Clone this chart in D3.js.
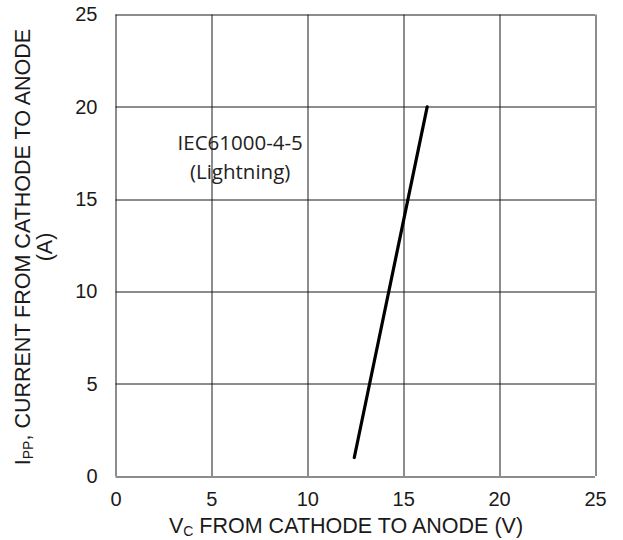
<!DOCTYPE html>
<html>
<head>
<meta charset="utf-8">
<script src="https://cdn.jsdelivr.net/npm/d3@7"></script>
<style>
  body { margin: 0; background: #fff; }
  svg { display: block; font-family: "Liberation Sans", Arial, sans-serif; }
</style>
</head>
<body>
<div id="chart"></div>
<script>
const xTicks = [0, 5, 10, 15, 20, 25];
const yTicks = [0, 5, 10, 15, 20, 25];
const clampVoltage = [12.45, 16.25];
const peakCurrent = [1, 20];
const noteLines = ["IEC61000-4-5", "(Lightning)"];

const chartRenderer = (() => {

    function renderClampChart(targetElementId) {
        const width = 623, height = 540;
        const margin = { top: 14.5, right: 28, bottom: 64, left: 115.5 };
        const innerWidth = width - margin.left - margin.right;
        const innerHeight = height - margin.top - margin.bottom;

        const svg = d3.select(`#${targetElementId}`).append("svg")
            .attr("width", width).attr("height", height);
        const chartArea = svg.append("g").attr("transform", `translate(${margin.left},${margin.top})`);

        const x = d3.scaleLinear().domain([0, 25]).range([0, innerWidth]);
        const y = d3.scaleLinear().domain([0, 25]).range([innerHeight, 0]);

        // grid
        chartArea.append("g").selectAll("line").data(xTicks).enter().append("line")
            .attr("x1", d => Math.round(x(d)) + 0.5).attr("x2", d => Math.round(x(d)) + 0.5)
            .attr("y1", 0).attr("y2", innerHeight)
            .attr("stroke", "#1a1a1a").attr("stroke-width", 1);
        chartArea.append("g").selectAll("line").data(yTicks).enter().append("line")
            .attr("y1", d => Math.round(y(d)) + 0.5).attr("y2", d => Math.round(y(d)) + 0.5)
            .attr("x1", 0).attr("x2", innerWidth)
            .attr("stroke", "#1a1a1a").attr("stroke-width", 1);

        // axes (labels only)
        const xAxis = chartArea.append("g").attr("transform", `translate(0,${innerHeight})`)
            .call(d3.axisBottom(x).tickValues(xTicks).tickSize(0).tickPadding(16));
        const yAxis = chartArea.append("g")
            .call(d3.axisLeft(y).tickValues(yTicks).tickSize(0).tickPadding(18));
        [xAxis, yAxis].forEach(a => {
            a.select(".domain").remove();
            a.selectAll("text").attr("font-size", 20).attr("fill", "#1a1a1a")
                .attr("font-family", "'Liberation Sans', Arial, sans-serif");
        });

        // data line
        const pts = clampVoltage.map((v, i) => ({ v, i: peakCurrent[i] }));
        chartArea.append("path").datum(pts)
            .attr("fill", "none").attr("stroke", "#000").attr("stroke-width", 3.2)
            .attr("stroke-linecap", "round")
            .attr("d", d3.line().x(d => x(d.v)).y(d => y(d.i)));

        // annotation
        chartArea.append("text")
            .attr("x", x(6.5)).attr("y", y(17.65))
            .attr("text-anchor", "middle")
            .attr("font-family", "'Open Sans', sans-serif").attr("font-size", 20.5).attr("fill", "#222")
            .selectAll("tspan").data(noteLines).enter().append("tspan")
            .attr("x", x(6.5)).attr("dy", (d, i) => i === 0 ? 0 : 29)
            .text(d => d);

        // x axis title
        const xt = svg.append("text")
            .attr("x", 346).attr("y", 533)
            .attr("text-anchor", "middle").attr("font-size", 21.5).attr("fill", "#1a1a1a");
        xt.append("tspan").text("V");
        xt.append("tspan").attr("font-size", 14).attr("dy", 2.5).text("C");
        xt.append("tspan").attr("dy", -2.5).text(" FROM CATHODE TO ANODE (V)");

        // y axis title
        const yc = 247;
        const yt = svg.append("text")
            .attr("transform", `translate(30,${yc}) rotate(-90)`)
            .attr("text-anchor", "middle").attr("font-size", 21.5).attr("fill", "#1a1a1a");
        yt.append("tspan").text("I");
        yt.append("tspan").attr("font-size", 14).attr("dy", 3).text("PP");
        yt.append("tspan").attr("dy", -3).text(", CURRENT FROM CATHODE TO ANODE");
        svg.append("text")
            .attr("transform", `translate(52,${yc}) rotate(-90)`)
            .attr("text-anchor", "middle").attr("font-size", 21.5).attr("fill", "#1a1a1a")
            .text("(A)");
    }

    return Object.freeze({ renderClampChart });
})();

chartRenderer.renderClampChart("chart");
</script>
</body>
</html>
